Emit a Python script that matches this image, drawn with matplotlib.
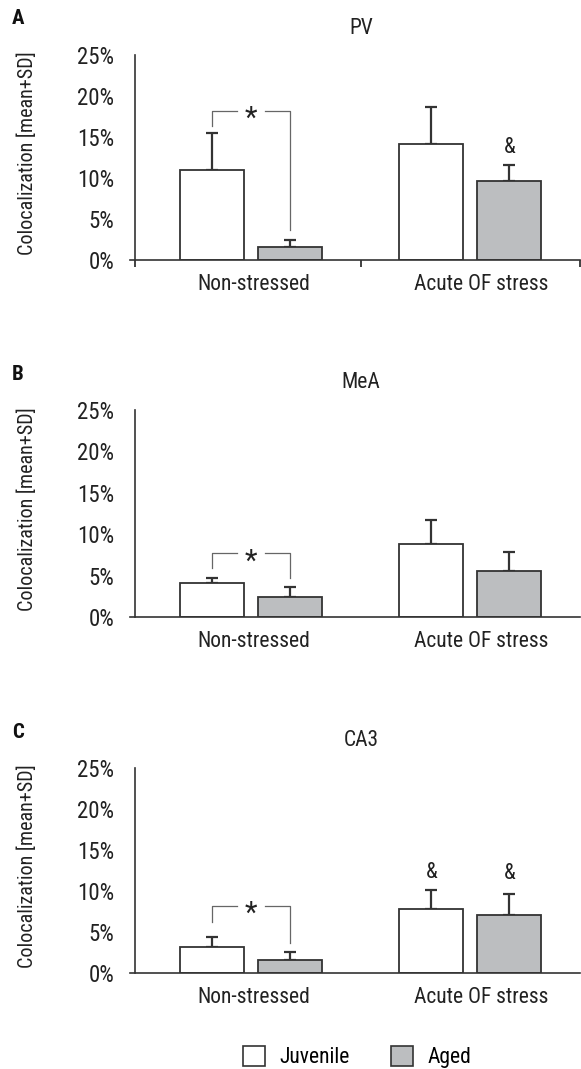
import matplotlib
matplotlib.use('Agg')
import matplotlib.pyplot as plt
from matplotlib.patches import Patch
from matplotlib import transforms

plt.rcParams['font.family'] = ['Liberation Sans Narrow', 'Roboto Condensed', 'Roboto', 'DejaVu Sans']

groups = ['Non-stressed', 'Acute OF stress']
regions = ['PV', 'MeA', 'CA3']
letters = ['A', 'B', 'C']

# means and SD (%), per region: [non-stressed, acute OF stress]
juv_mean = [[11.0, 14.1], [4.1, 8.8], [3.2, 7.8]]
juv_sd = [[4.5, 4.6], [0.6, 2.9], [1.2, 2.3]]
aged_mean = [[1.6, 9.6], [2.4, 5.6], [1.6, 7.1]]
aged_sd = [[0.9, 2.0], [1.2, 2.3], [1.0, 2.5]]

# significance bracket (*) in non-stressed group: top, left leg end, right leg end
bracket_top = [18.2, 7.7, 8.2]
bracket_left = [16.3, 5.9, 6.2]
bracket_right = [3.7, 4.7, 3.7]
# '&' marks: (group index, series, height)
amp_marks = [[(1, 'aged', 13.7)], [], [(1, 'juv', 12.2), (1, 'aged', 12.1)]]

W, H = 581, 1069
fig = plt.figure(figsize=(W / 100, H / 100), dpi=100)

EDGE = '#333333'
GRAY = '#bcbec0'
TXT = '#222222'
bw = 0.292
off = 0.178
ax_left, ax_right = 130, 580
ax_tops = [55, 410, 768]
ax_bottoms = [260, 617, 973]
letter_y = [18, 375, 733]
FS = 15.5

for i in range(3):
    t, b = ax_tops[i], ax_bottoms[i]
    ax = fig.add_axes([ax_left / W, 1 - b / H, (ax_right - ax_left) / W, (b - t) / H])
    x = [0, 1]
    xj = [v - off for v in x]
    xa = [v + off for v in x]
    ax.bar(xj, juv_mean[i], bw, color='white', edgecolor=EDGE, linewidth=1.3, zorder=2)
    ax.bar(xa, aged_mean[i], bw, color=GRAY, edgecolor=EDGE, linewidth=1.3, zorder=2)
    ax.errorbar(xj, juv_mean[i], yerr=[[0, 0], juv_sd[i]], fmt='none', ecolor=EDGE,
                elinewidth=1.6, capsize=4.5, capthick=1.6, zorder=1)
    ax.errorbar(xa, aged_mean[i], yerr=[[0, 0], aged_sd[i]], fmt='none', ecolor=EDGE,
                elinewidth=1.6, capsize=4.5, capthick=1.6, zorder=1)

    ax.set_xlim(-0.553, 1.5)
    ax.set_ylim(0, 25)
    ax.spines['top'].set_visible(False)
    ax.spines['right'].set_visible(False)
    ax.spines['left'].set_position(('data', -0.53))
    for s in ['left', 'bottom']:
        ax.spines[s].set_color(EDGE)
        ax.spines[s].set_linewidth(1.2)
    ax.set_yticks([0, 5, 10, 15, 20, 25])
    ax.set_yticklabels(['0%', '5%', '10%', '15%', '20%', '25%'])
    ax.tick_params(axis='y', length=0, pad=15, labelsize=16.5, labelcolor=TXT)
    if i == 0:
        ax.set_xticks([-0.53, 0.5, 1.5])
        ax.tick_params(axis='x', length=5, width=1.3, color=EDGE, direction='out')
    else:
        ax.set_xticks([])
    ax.set_xticklabels([])

    trans = transforms.blended_transform_factory(ax.transData, ax.transAxes)
    ax.text(0.01, -0.12, groups[0], transform=trans, ha='center', va='center', fontsize=FS, color=TXT)
    ax.text(1.05, -0.12, groups[1], transform=trans, ha='center', va='center', fontsize=FS, color=TXT)

    ax.set_ylabel('Colocalization [mean+SD]', fontsize=14.5, color=TXT)
    ax.yaxis.set_label_coords((37 - ax_left) / (ax_right - ax_left), 0.52)

    ax.text((361 - ax_left) / (ax_right - ax_left), 1 + 27 / (b - t), regions[i],
            transform=ax.transAxes, ha='center', va='center', fontsize=FS, color=TXT)
    fig.text(12 / W, 1 - letter_y[i] / H, letters[i], fontsize=15, fontweight='bold',
             ha='left', va='center', color='#111111')

    # bracket with star
    bl, br = xj[0], xa[0]
    top = bracket_top[i]
    bc = '#666666'
    ax.plot([bl, bl, bl + 0.115], [bracket_left[i], top, top], color=bc, lw=0.9, zorder=3)
    ax.plot([br - 0.115, br, br], [top, top, bracket_right[i]], color=bc, lw=0.9, zorder=3)
    ax.text((bl + br) / 2, top - 1.0, '*', ha='center', va='center', fontsize=21, color=TXT)

    for g, series, h in amp_marks[i]:
        xx = xj[g] if series == 'juv' else xa[g]
        ax.text(xx, h, '&', ha='center', va='center', fontsize=FS, color=TXT)

handles = [Patch(facecolor='white', edgecolor=EDGE, linewidth=1.2, label='Juvenile'),
           Patch(facecolor=GRAY, edgecolor=EDGE, linewidth=1.2, label='Aged')]
fig.legend(handles=handles, loc='center', bbox_to_anchor=(357 / W, 1 - 1057 / H), ncol=2,
           frameon=False, fontsize=FS, handlelength=1.05, handleheight=1.1,
           handletextpad=0.65, columnspacing=1.9, borderpad=0)

fig.savefig('out.png', dpi=100)
